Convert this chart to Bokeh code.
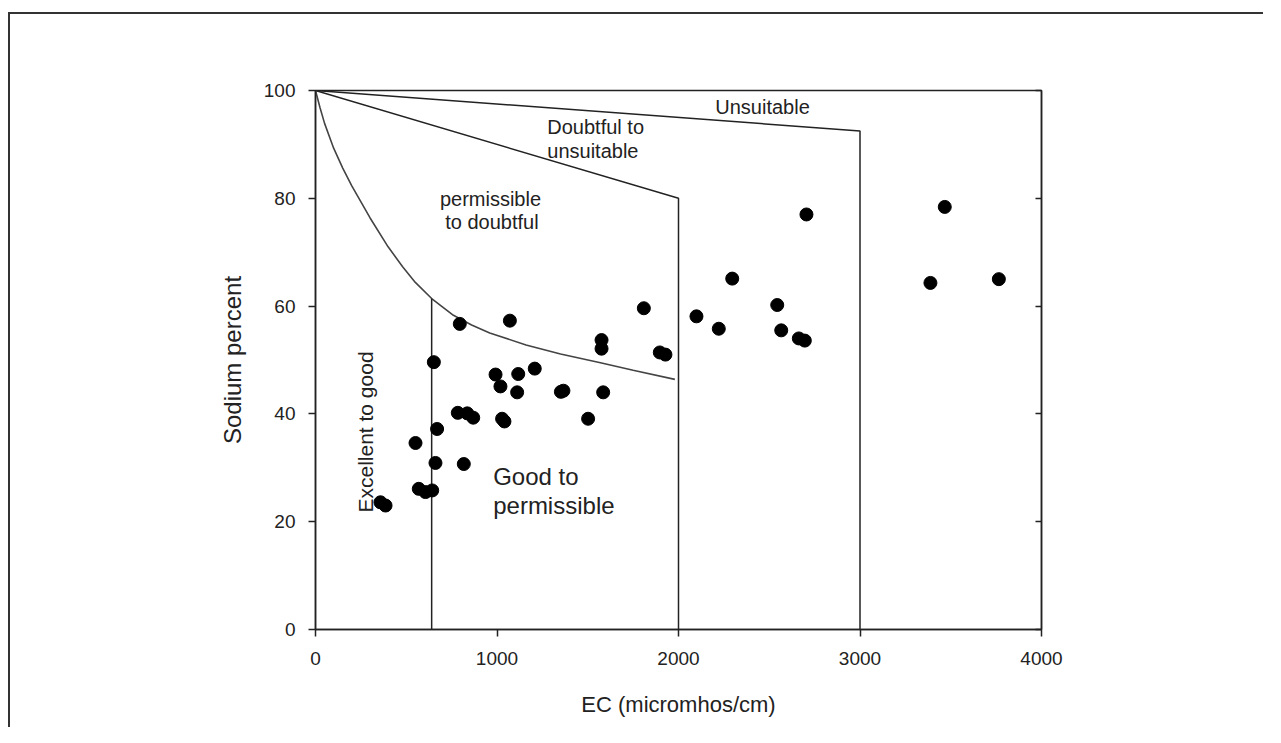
from bokeh.plotting import figure
from bokeh.models import Range1d, LinearAxis, FixedTicker, Label
from bokeh.embed import file_html
from bokeh.resources import INLINE
import math

# ---- data ----
ec_samples = [358, 386, 551, 569, 606, 643, 652, 670, 661, 795, 817, 784, 836, 869,
              992, 1019, 1028, 1041, 1071, 1117, 1111, 1208, 1352, 1366, 1502, 1576,
              1576, 1585, 1809, 1897, 1928, 2099, 2222, 2296, 2544, 2566, 2663, 2696,
              2705, 3388, 3467, 3765]
na_samples = [23.6, 23.0, 34.6, 26.1, 25.5, 25.8, 49.6, 37.2, 30.9, 56.7, 30.7, 40.2,
              40.1, 39.3, 47.3, 45.1, 39.1, 38.6, 57.3, 47.4, 44.0, 48.4, 44.1, 44.3,
              39.1, 53.7, 52.1, 44.0, 59.6, 51.4, 51.0, 58.1, 55.8, 65.1, 60.2, 55.5,
              54.0, 53.6, 77.0, 64.3, 78.4, 65.0]

# class boundaries (Wilcox diagram)
curve_ec = [0, 25, 50, 100, 150, 200, 300, 400, 480, 550, 640, 760, 860, 960, 1160,
            1350, 1570, 1750, 1980]
curve_na = [100, 96.8, 93.9, 89.3, 85.6, 82.3, 76.4, 71.0, 67.3, 64.4, 61.4, 58.3, 56.5,
            55.0, 52.8, 51.1, 49.5, 48.1, 46.4]

excellent_ec = [640, 640]
excellent_na = [61.4, 0]

doubtful_ec = [0, 2000, 2000]
doubtful_na = [100, 80, 0]

unsuitable_ec = [0, 3000, 3000]
unsuitable_na = [100, 92.5, 0]

x_ticks = [0, 1000, 2000, 3000, 4000]
y_ticks = [0, 20, 40, 60, 80, 100]

FONT = "Liberation Sans"

p = figure(width=1255, height=715, output_backend="svg", toolbar_location=None,
           x_range=Range1d(0, 4000), y_range=Range1d(0, 100),
           min_border_left=305, min_border_right=224, min_border_top=76,
           min_border_bottom=100)
p.styles = {"margin-top": "12px", "margin-left": "8px",
            "border-top": "2px solid #333", "border-left": "2px solid #333"}
p.grid.visible = False
p.outline_line_color = "#222222"
p.outline_line_width = 1.5
p.background_fill_color = "white"
p.border_fill_color = "white"

for ax in [p.xaxis[0], p.yaxis[0]]:
    ax.axis_line_color = "#222222"
    ax.axis_line_width = 1.5
    ax.major_tick_line_color = "#222222"
    ax.major_tick_line_width = 1.5
    ax.major_tick_out = 7
    ax.major_tick_in = 0
    ax.minor_tick_line_color = None
    ax.major_label_text_font = FONT
    ax.major_label_text_font_size = "19px"
    ax.major_label_text_color = "#222222"
    ax.axis_label_text_font = FONT
    ax.axis_label_text_font_style = "normal"
    ax.axis_label_text_color = "#222222"

p.xaxis[0].ticker = FixedTicker(ticks=x_ticks)
p.yaxis[0].ticker = FixedTicker(ticks=y_ticks)
p.xaxis[0].axis_label = "EC (micromhos/cm)"
p.xaxis[0].axis_label_text_font_size = "22px"
p.xaxis[0].axis_label_standoff = 24
p.xaxis[0].major_label_standoff = 15
p.yaxis[0].axis_label = "Sodium percent"
p.yaxis[0].axis_label_text_font_size = "24px"
p.yaxis[0].axis_label_standoff = 15
p.yaxis[0].major_label_standoff = 13

right = LinearAxis(ticker=FixedTicker(ticks=y_ticks))
right.major_label_text_font_size = "0px"
right.major_label_text_color = None
right.major_tick_in = 6
right.major_tick_out = 0
right.minor_tick_line_color = None
right.axis_line_color = "#222222"
right.axis_line_width = 1.5
right.major_tick_line_color = "#222222"
right.major_tick_line_width = 1.5
p.add_layout(right, "right")

line_color = "#222222"
p.line(unsuitable_ec, unsuitable_na, line_color=line_color, line_width=1.5)
p.line(doubtful_ec, doubtful_na, line_color=line_color, line_width=1.5)
p.line(curve_ec, curve_na, line_color="#444444", line_width=1.6)
p.line(excellent_ec, excellent_na, line_color=line_color, line_width=1.5)

p.scatter(ec_samples, na_samples, size=13, marker="circle",
          fill_color="black", line_color="black")

def lab(x, y, text, size, align="left", angle=0.0, baseline="alphabetic"):
    p.add_layout(Label(x=x, y=y, text=text, text_font=FONT, text_font_size=size,
                       text_color="#222222", text_align=align, text_baseline=baseline,
                       angle=angle))

lab(2463, 97.0, "Unsuitable", "20px", align="center")
lab(1277, 93.2, "Doubtful to", "20px")
lab(1277, 88.8, "unsuitable", "20px")
lab(964, 79.8, "permissible", "20px", align="center")
lab(972, 75.6, "to doubtful", "20px", align="center")
lab(979, 28.3, "Good to", "24px")
lab(979, 23.0, "permissible", "24px")
lab(275, 21.7, "Excellent to good", "21px", angle=math.pi / 2, baseline="middle")

open("out.html", "w").write(file_html(p, INLINE))
